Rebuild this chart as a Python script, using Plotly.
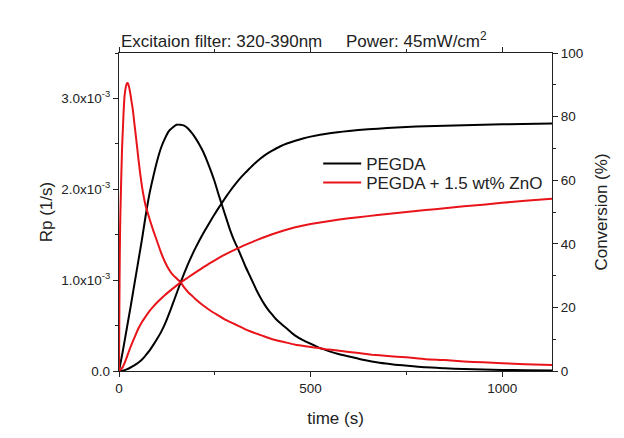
import plotly.graph_objects as go

# ---- data ----
# Rp values are in units of 1e-3 1/s, time in s, conversion in %
t_rp_pegda = [0, 10, 20, 30, 40, 50, 60, 70, 80, 90, 100, 110, 120, 130, 140, 150, 160, 170, 180,
              190, 200, 210, 220, 230, 240, 250, 260, 270, 280, 290, 300, 310, 320, 330, 340, 350,
              360, 370, 380, 390, 400, 410, 420, 440, 460, 480, 500, 520, 540, 570, 600, 640, 680,
              720, 760, 800, 850, 900, 950, 1000, 1060, 1130]
rp_pegda = [0, 0.22, 0.46, 0.7, 0.95, 1.2, 1.45, 1.72, 1.96, 2.15, 2.32, 2.46, 2.56, 2.64, 2.68,
            2.71, 2.71, 2.70, 2.67, 2.62, 2.56, 2.49, 2.41, 2.31, 2.2, 2.08, 1.94, 1.81, 1.68, 1.55,
            1.44, 1.35, 1.25, 1.15, 1.06, 0.97, 0.88, 0.8, 0.73, 0.67, 0.62, 0.57, 0.53, 0.46, 0.39,
            0.34, 0.3, 0.26, 0.23, 0.19, 0.16, 0.12, 0.09, 0.07, 0.055, 0.04, 0.03, 0.022, 0.016,
            0.012, 0.008, 0.006]

t_rp_zno = [0, 1, 2, 3, 4, 6, 8, 10, 12, 14, 16, 18, 20, 22, 24, 26, 28, 30, 33, 36, 40, 45, 50,
            55, 60, 65, 70, 75, 80, 90, 100, 110, 120, 130, 140, 150, 160, 170, 180, 190, 200, 220,
            240, 260, 280, 300, 320, 340, 360, 380, 400, 430, 460, 500, 540, 580, 620, 660, 700,
            750, 800, 850, 900, 950, 1000, 1060, 1130]
rp_zno = [0, 0.7, 1.25, 1.6, 1.8, 2.15, 2.45, 2.65, 2.85, 3.0, 3.08, 3.13, 3.16, 3.17, 3.16, 3.13,
          3.09, 3.04, 2.96, 2.88, 2.73, 2.55, 2.36, 2.18, 2.03, 1.91, 1.81, 1.74, 1.67, 1.54, 1.42,
          1.3, 1.2, 1.12, 1.06, 1.02, 0.98, 0.92, 0.87, 0.83, 0.79, 0.72, 0.66, 0.61, 0.56, 0.52,
          0.48, 0.44, 0.41, 0.38, 0.35, 0.32, 0.29, 0.265, 0.24, 0.22, 0.2, 0.18, 0.165, 0.15, 0.13,
          0.12, 0.105, 0.095, 0.085, 0.075, 0.066]

t_conv_pegda = [0, 10, 20, 30, 40, 50, 60, 70, 80, 90, 100, 110, 120, 130, 140, 150, 160, 170, 180,
                190, 200, 210, 220, 230, 240, 250, 260, 270, 280, 290, 300, 310, 320, 330, 340, 350,
                360, 370, 380, 390, 400, 420, 440, 460, 480, 500, 550, 600, 650, 700, 750, 800, 900,
                1000, 1130]
conv_pegda = [0, 0.1, 0.5, 1.1, 1.8, 2.6, 3.6, 5.0, 6.5, 8.3, 10.2, 12.3, 14.8, 17.8, 21.0, 24.3,
              27.6, 30.7, 33.6, 36.3, 38.8, 41.1, 43.3, 45.4, 47.4, 49.4, 51.3, 53.1, 54.9, 56.6,
              58.2, 59.7, 61.1, 62.4, 63.6, 64.8, 65.9, 66.9, 67.8, 68.6, 69.3, 70.6, 71.6, 72.4,
              73.1, 73.7, 74.8, 75.5, 76.0, 76.4, 76.7, 77.0, 77.3, 77.6, 77.8]

t_conv_zno = [0, 5, 10, 15, 20, 25, 30, 35, 40, 50, 60, 70, 80, 90, 100, 120, 140, 160, 180, 200,
              225, 250, 275, 300, 325, 350, 375, 400, 430, 460, 500, 550, 600, 650, 700, 750, 800,
              850, 900, 950, 1000, 1060, 1130]
conv_zno = [0, 0.5, 1.3, 2.6, 4.2, 5.9, 7.5, 9.0, 10.4, 13.2, 15.4, 17.2, 18.9, 20.3, 21.6, 23.9,
            25.9, 27.8, 29.4, 31, 33, 34.8, 36.5, 38, 39.4, 40.7, 41.9, 43, 44.2, 45.2, 46.2, 47.2,
            48, 48.7, 49.4, 50, 50.6, 51.2, 51.8, 52.3, 52.9, 53.5, 54.2]

names = ["PEGDA", "PEGDA + 1.5 wt% ZnO"]
rp_tickvals = [0, 1, 2, 3]
rp_ticktext = ["0.0", "1.0x10<sup>-3</sup>", "2.0x10<sup>-3</sup>", "3.0x10<sup>-3</sup>"]
rp_minor = [0.5, 1.5, 2.5, 3.5]

BLACK = "#000000"
RED = "#e8141a"
FONT = "Arial, Liberation Sans, sans-serif"
TXT = "#222222"

line_kw = dict(width=2, shape="spline", smoothing=0.5)

fig = go.Figure()
fig.add_trace(go.Scatter(x=t_rp_pegda, y=rp_pegda, mode="lines", name=names[0], legend="legend",
                         line=dict(color=BLACK, **line_kw)))
fig.add_trace(go.Scatter(x=t_rp_zno, y=rp_zno, mode="lines", name=names[1], legend="legend2",
                         line=dict(color=RED, **line_kw)))
fig.add_trace(go.Scatter(x=t_conv_pegda, y=conv_pegda, mode="lines", name=names[0], yaxis="y2",
                         showlegend=False, line=dict(color=BLACK, **line_kw)))
fig.add_trace(go.Scatter(x=t_conv_zno, y=conv_zno, mode="lines", name=names[1], yaxis="y2",
                         showlegend=False, line=dict(color=RED, **line_kw)))

axis_common = dict(showline=True, linecolor=TXT, linewidth=1.3, ticks="outside",
                   tickcolor=TXT, tickwidth=1.2, ticklen=5, showgrid=False, zeroline=False,
                   tickfont=dict(family=FONT, size=13.5, color=TXT))
title_font = dict(family=FONT, size=17, color=TXT)
legend_common = dict(xanchor="left", yanchor="middle", bgcolor="rgba(0,0,0,0)",
                     font=dict(family=FONT, size=17, color=TXT), itemwidth=38)

fig.update_layout(
    width=624, height=438,
    margin=dict(l=119, r=72, t=53, b=67),
    paper_bgcolor="white", plot_bgcolor="white",
    font=dict(family=FONT, color=TXT),
    xaxis=dict(range=[0, 1130], dtick=500, mirror="ticks",
               minor=dict(dtick=250, ticks="outside", ticklen=3, tickcolor=TXT),
               title=dict(text="time (s)", font=title_font, standoff=16),
               **axis_common),
    yaxis=dict(range=[0, 3.5], tickvals=rp_tickvals, ticktext=rp_ticktext,
               minor=dict(tickvals=rp_minor, ticks="outside", ticklen=3, tickcolor=TXT),
               title=dict(text="Rp (1/s)", font=title_font, standoff=4),
               **axis_common),
    yaxis2=dict(range=[0, 100], dtick=20, overlaying="y", side="right",
                minor=dict(dtick=10, ticks="outside", ticklen=3, tickcolor=TXT),
                title=dict(text="Conversion (%)", font=title_font, standoff=12),
                **axis_common),
    legend=dict(x=0.46, y=0.651, **legend_common),
    legend2=dict(x=0.46, y=0.591, **legend_common),
    showlegend=True,
    annotations=[dict(text="Excitaion filter: 320-390nm\u00a0\u00a0\u00a0\u00a0\u00a0Power: 45mW/cm<sup>2</sup>",
                      xref="paper", yref="paper", x=0, y=1.041, xanchor="left", yanchor="middle",
                      showarrow=False, font=dict(family=FONT, size=17, color=TXT))],
)

fig.write_html("out.html")
